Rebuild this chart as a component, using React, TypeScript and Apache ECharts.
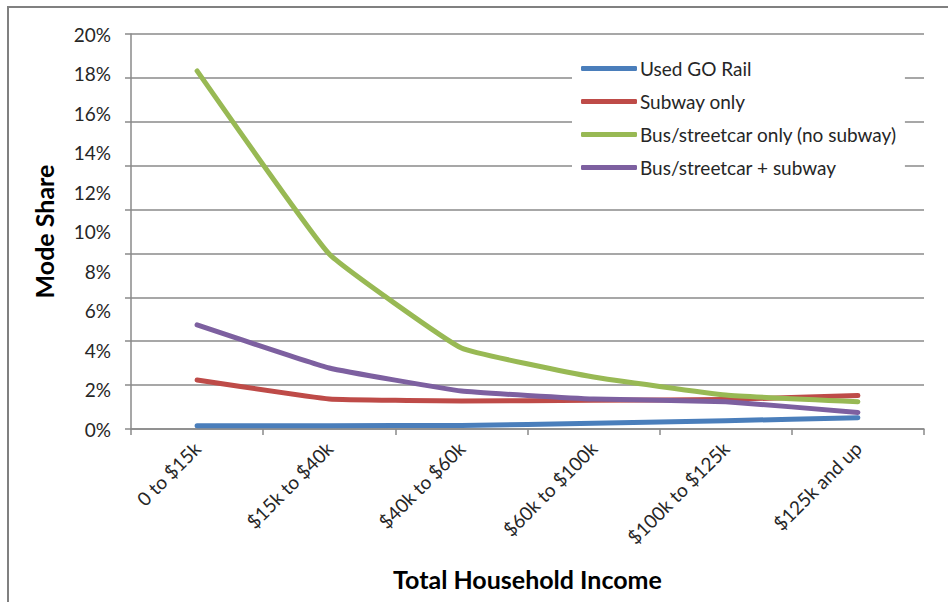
import React, { useEffect, useRef } from "react";
import * as echarts from "echarts";

const categories = ["0 to $15k", "$15k to $40k", "$40k to $60k", "$60k to $100k", "$100k to $125k", "$125k and up"];
const goRail = [0.17, 0.17, 0.18, 0.29, 0.42, 0.57];
const subwayOnly = [2.48, 1.52, 1.42, 1.45, 1.5, 1.69];
const busOnly = [18.13, 8.86, 4.1, 2.63, 1.72, 1.38];
const busSubway = [5.27, 3.09, 1.92, 1.52, 1.38, 0.84];
const yLabelTicks = [0, 20, 2];
const gridTicks = [0, 18, 2];

const FONT = "Lato";

export default function App() {
  const ref = useRef<HTMLDivElement>(null);
  useEffect(() => {
    if (!ref.current) return;
    const chart = echarts.init(ref.current, null, { renderer: "svg" });
    const mk = (name: string, data: number[], color: string) => ({
      name,
      type: "line",
      data,
      yAxisIndex: 0,
      smooth: 0.1,
      symbol: "none",
      lineStyle: { width: 5, color, cap: "round", join: "round" },
      itemStyle: { color },
    });
    chart.setOption({
      animation: false,
      backgroundColor: "#ffffff",
      textStyle: { fontFamily: FONT },
      grid: { left: 131, right: 24, top: 34, bottom: 173 },
      graphic: [
        {
          type: "rect",
          shape: { x: 8, y: 7, width: 1000, height: 700 },
          style: { fill: "none", stroke: "#808080", lineWidth: 2 },
          silent: true,
          z: -1,
        },
      ],
      legend: {
        orient: "vertical",
        left: 572,
        top: 52,
        padding: [7, 8, 10, 9],
        backgroundColor: "#ffffff",
        itemWidth: 56,
        itemHeight: 5,
        itemGap: 14,
        icon: "roundRect",
        textStyle: { fontFamily: FONT, fontSize: 19, color: "#262626", padding: [0, 0, 0, -2] },
        data: ["Used GO Rail", "Subway only", "Bus/streetcar only (no subway)", "Bus/streetcar + subway"],
        z: 10,
      },
      xAxis: {
        type: "category",
        data: categories,
        boundaryGap: true,
        axisLine: { show: true, lineStyle: { color: "#8a8a8a", width: 1.5 } },
        axisTick: { show: true, length: 6, lineStyle: { color: "#8a8a8a", width: 1.5 } },
        axisLabel: { rotate: 45, fontSize: 19, color: "#262626", margin: 16, fontFamily: FONT },
        name: "Total Household Income",
        nameLocation: "middle",
        nameGap: 137,
        nameTextStyle: { fontSize: 25, fontWeight: "bold", color: "#000", fontFamily: FONT },
      },
      yAxis: [
        {
          type: "value",
          position: "left",
          min: yLabelTicks[0],
          max: yLabelTicks[1],
          interval: yLabelTicks[2],
          axisLine: { show: true, lineStyle: { color: "#8a8a8a", width: 1.5 } },
          axisTick: { show: false },
          splitLine: { show: false },
          axisLabel: {
            formatter: (v: number) => v + "%",
            fontSize: 19,
            color: "#262626",
            margin: 20,
            fontFamily: FONT,
          },
          name: "Mode Share",
          nameLocation: "middle",
          nameRotate: 90,
          nameGap: 75,
          nameTextStyle: { fontSize: 25, fontWeight: "bold", color: "#000", fontFamily: FONT },
        },
        {
          type: "value",
          position: "left",
          min: gridTicks[0],
          max: gridTicks[1],
          interval: gridTicks[2],
          axisLine: { show: false },
          axisTick: { show: true, length: 6, lineStyle: { color: "#8a8a8a", width: 1.5 } },
          axisLabel: { show: false },
          splitLine: { show: true, lineStyle: { color: "#8a8a8a", width: 1.5 } },
        },
      ],
      series: [
        mk("Used GO Rail", goRail, "#4A7EBB"),
        mk("Subway only", subwayOnly, "#BE4B48"),
        mk("Bus/streetcar only (no subway)", busOnly, "#98B954"),
        mk("Bus/streetcar + subway", busSubway, "#7D60A0"),
      ],
    });
    return () => chart.dispose();
  }, []);
  return (
    <div
      ref={ref}
      style={{ position: "fixed", left: 0, top: 0, width: 948, height: 602 }}
    />
  );
}
